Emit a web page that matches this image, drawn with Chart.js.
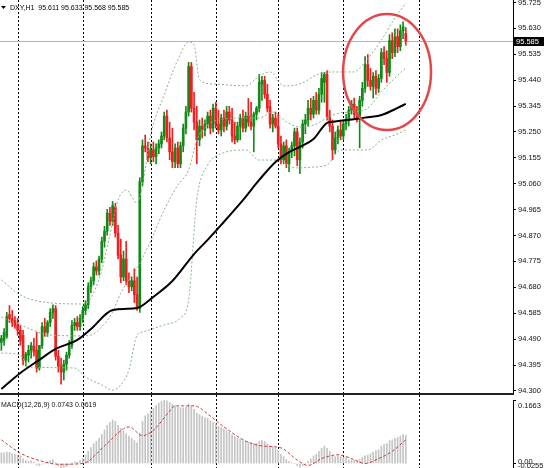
<!DOCTYPE html>
<html><head><meta charset="utf-8">
<script src="https://cdn.jsdelivr.net/npm/chart.js@4.4.1/dist/chart.umd.min.js"></script>
<style>
html,body{margin:0;padding:0;background:#fff;}
body{width:548px;height:468px;overflow:hidden;position:relative;}
#main{position:absolute;left:0;top:0;}
#macd{position:absolute;left:0;top:395px;}
</style></head><body>
<canvas id="main" width="548" height="395"></canvas>
<canvas id="macd" width="548" height="75"></canvas>
<script>
// ---------- data ----------
const symbolTitle = 'DXY,H1';
const lastQuote = ['95.611','95.633','95.568','95.585'];
const priceTicks = [94.300,94.395,94.490,94.585,94.680,94.775,94.870,94.965,95.060,95.155,95.250,95.345,95.440,95.535,95.630,95.725];
const daySeparatorBars = [6,30,55,79,102,126,154];

const opens = [94.478,94.485,94.500,94.580,94.566,94.558,94.543,94.522,94.504,94.413,94.431,94.449,94.463,94.449,94.384,94.467,94.536,94.515,94.551,94.588,
94.602,94.427,94.391,94.369,94.398,94.431,94.467,94.540,94.551,94.536,94.566,94.595,94.616,94.682,94.704,94.755,94.740,94.784,94.849,94.886,
94.952,94.922,94.973,94.879,94.798,94.718,94.784,94.704,94.682,94.704,94.653,94.602,95.068,95.199,95.191,95.155,95.184,95.159,95.191,95.206,
95.235,95.308,95.228,95.177,95.141,95.191,95.133,95.199,95.264,95.323,95.490,95.337,95.286,95.221,95.271,95.257,95.279,95.308,95.264,95.337,
95.279,95.257,95.301,95.271,95.323,95.294,95.235,95.221,95.271,95.301,95.264,95.308,95.286,95.271,95.315,95.337,95.425,95.439,95.388,95.344,
95.279,95.301,95.271,95.206,95.148,95.199,95.133,95.177,95.199,95.250,95.148,95.213,95.279,95.294,95.337,95.315,95.366,95.330,95.388,95.432,
95.461,95.308,95.271,95.184,95.228,95.257,95.235,95.279,95.293,95.330,95.352,95.315,95.301,95.366,95.410,95.497,95.439,95.417,95.454,95.410,
95.446,95.541,95.519,95.468,95.585,95.541,95.599,95.563,95.621,95.611];
const highs = [94.504,94.529,94.588,94.613,94.595,94.573,94.566,94.540,94.522,94.442,94.467,94.478,94.493,94.515,94.467,94.551,94.566,94.558,94.602,94.616,
94.613,94.449,94.420,94.413,94.442,94.485,94.558,94.566,94.573,94.580,94.609,94.631,94.697,94.718,94.770,94.777,94.795,94.864,94.904,94.966,
94.973,94.995,94.988,94.907,94.857,94.813,94.849,94.733,94.718,94.748,94.718,95.082,95.221,95.239,95.213,95.206,95.213,95.206,95.221,95.250,
95.323,95.330,95.286,95.264,95.206,95.213,95.213,95.279,95.344,95.505,95.505,95.395,95.344,95.294,95.301,95.294,95.323,95.330,95.352,95.359,
95.330,95.315,95.330,95.344,95.344,95.337,95.286,95.286,95.315,95.330,95.323,95.373,95.359,95.323,95.344,95.461,95.454,95.454,95.425,95.366,
95.315,95.323,95.315,95.235,95.213,95.221,95.191,95.213,95.264,95.264,95.228,95.294,95.315,95.366,95.373,95.381,95.395,95.410,95.468,95.468,
95.475,95.330,95.293,95.250,95.272,95.286,95.293,95.315,95.344,95.366,95.374,95.344,95.381,95.432,95.526,95.534,95.483,95.468,95.475,95.461,
95.556,95.563,95.548,95.607,95.614,95.628,95.628,95.643,95.654,95.633];
const lows = [94.449,94.467,94.493,94.551,94.536,94.529,94.504,94.467,94.395,94.391,94.406,94.420,94.427,94.369,94.376,94.456,94.500,94.500,94.536,94.566,
94.413,94.369,94.325,94.340,94.376,94.420,94.456,94.522,94.522,94.522,94.551,94.580,94.602,94.660,94.689,94.725,94.725,94.770,94.827,94.871,
94.907,94.907,94.864,94.784,94.697,94.704,94.689,94.660,94.667,94.624,94.595,94.588,95.053,95.177,95.141,95.133,95.141,95.133,95.170,95.191,
95.221,95.213,95.148,95.119,95.119,95.119,95.119,95.177,95.243,95.308,95.323,95.257,95.133,95.199,95.228,95.235,95.264,95.243,95.250,95.264,
95.243,95.235,95.250,95.257,95.279,95.213,95.206,95.213,95.221,95.250,95.250,95.271,95.257,95.177,95.294,95.323,95.366,95.373,95.323,95.264,
95.250,95.264,95.191,95.133,95.133,95.119,95.104,95.155,95.162,95.126,95.097,95.191,95.243,95.271,95.294,95.301,95.315,95.315,95.359,95.359,
95.293,95.250,95.148,95.170,95.206,95.221,95.221,95.257,95.272,95.315,95.301,95.286,95.192,95.344,95.395,95.417,95.403,95.374,95.388,95.395,
95.432,95.497,95.432,95.454,95.519,95.526,95.541,95.548,95.592,95.568];
const closes = [94.493,94.515,94.573,94.566,94.551,94.540,94.522,94.485,94.413,94.434,94.449,94.467,94.442,94.384,94.467,94.536,94.515,94.551,94.588,94.602,
94.427,94.391,94.369,94.398,94.431,94.467,94.540,94.551,94.536,94.566,94.595,94.616,94.682,94.704,94.755,94.740,94.784,94.849,94.886,94.952,
94.922,94.980,94.879,94.798,94.718,94.784,94.704,94.682,94.704,94.653,94.609,95.068,95.199,95.191,95.155,95.184,95.159,95.191,95.206,95.235,
95.308,95.228,95.177,95.141,95.191,95.133,95.199,95.264,95.323,95.490,95.337,95.286,95.221,95.271,95.257,95.279,95.308,95.264,95.337,95.279,
95.257,95.301,95.271,95.323,95.294,95.235,95.221,95.271,95.301,95.264,95.308,95.286,95.271,95.315,95.337,95.432,95.439,95.388,95.337,95.279,
95.301,95.271,95.206,95.148,95.199,95.133,95.177,95.199,95.250,95.148,95.213,95.279,95.294,95.337,95.315,95.366,95.330,95.388,95.446,95.461,
95.308,95.271,95.184,95.228,95.257,95.235,95.279,95.293,95.330,95.352,95.315,95.301,95.366,95.410,95.497,95.439,95.417,95.454,95.410,95.446,
95.541,95.519,95.468,95.585,95.541,95.599,95.563,95.621,95.636,95.585];

// moving average (black) read at some bars
const maBars = [0,7,14,20,28,33,41,46,50,56,63,71,76,81,89,95,101,106,110,115,120,122,133,140,146,149];
const maVals = [94.307,94.366,94.414,94.454,94.487,94.527,94.597,94.601,94.604,94.645,94.703,94.802,94.854,94.909,95.000,95.074,95.140,95.176,95.195,95.224,95.283,95.287,95.301,95.312,95.338,95.353];
// Bollinger bands read at some bars
const bbUpBars = [0,7,18,30,33,37,40,43,46,50,52,55,60,65,69,71,73,78,90,95,99,104,110,117,122,130,134,140,145,149];
const bbUpVals = [94.707,94.652,94.623,94.619,94.641,94.744,94.872,95.000,95.037,94.989,95.055,95.239,95.386,95.514,95.580,95.569,95.441,95.426,95.419,95.455,95.470,95.419,95.426,95.463,95.470,95.470,95.507,95.587,95.668,95.723];
const bbMidBars = [0,7,18,30,33,37,41,44,47,50,52,56,60,65,69,72,76,80,90,95,100,105,110,115,120,125,130,135,140,145,149];
const bbMidVals = [94.571,94.542,94.505,94.502,94.505,94.535,94.590,94.659,94.707,94.751,94.788,94.872,94.964,95.055,95.110,95.220,95.275,95.294,95.301,95.301,95.323,95.287,95.268,95.275,95.301,95.320,95.323,95.338,95.397,95.448,95.485];
const bbLowBars = [0,7,10,27,31,37,41,44,47,50,52,60,66,69,72,76,80,90,95,102,108,115,120,125,130,135,140,145,149];
const bbLowVals = [94.439,94.432,94.388,94.384,94.351,94.322,94.303,94.322,94.377,94.505,94.516,94.542,94.568,94.634,95.000,95.129,95.165,95.184,95.147,95.147,95.118,95.121,95.129,95.184,95.184,95.184,95.220,95.239,95.257];

// MACD(12,26,9)
const macdParams = '12,26,9';
const macdMain = [0.028,0.027,0.030,0.029,0.026,0.024,0.022,0.020,
0.012,0.008,0.006,0.007,0.004,-0.004,-0.006,-0.002,0.002,0.004,0.008,0.010,0.002,-0.006,-0.010,-0.010,-0.008,-0.004,0.002,0.004,0.004,0.008,0.012,
0.022,0.032,0.042,0.052,0.058,0.066,0.076,0.088,0.100,0.108,0.114,
0.110,0.100,0.092,0.086,0.078,0.072,0.066,0.060,0.054,
0.080,0.110,0.125,0.130,
0.138,0.145,0.152,0.158,0.163,0.166,0.164,0.160,0.156,0.152,
0.148,0.146,0.146,0.148,0.156,0.150,0.142,0.132,0.128,0.124,0.120,0.118,0.112,
0.108,0.104,0.098,0.094,0.090,0.086,0.082,0.076,0.070,0.066,0.064,0.060,0.058,
0.056,0.054,0.052,0.052,0.058,0.060,0.058,0.052,0.046,0.044,0.040,0.034,0.024,
0.018,0.010,0.006,0.002,0.000,-0.006,-0.010,-0.006,0.000,0.006,
0.012,0.020,0.024,0.032,0.040,0.046,0.040,0.032,
0.020,0.018,0.020,0.018,0.016,0.016,
0.010,0.010,0.008,0.006,0.010,0.016,0.020,
0.022,0.026,0.030,0.034,0.036,0.046,0.050,0.052,0.060,0.062,0.066,0.068,0.072,0.076,0.0743];
const signalBars = [0,7,16,21,30,38,45,47,52,56,62,64,71,77,82,90,96,103,109,113,118,124,129,134,139,144,149];
const signalVals = [0.062,0.027,0.004,-0.002,0.000,0.046,0.091,0.096,0.073,0.087,0.137,0.151,0.151,0.124,0.096,0.059,0.046,0.041,0.009,-0.005,0.013,0.023,0.013,0.000,0.013,0.032,0.0619];
const macdTickLabels = ['0.1663','0.00','-0.0255'];
const macdTop = 0.1663;

// circled region (annotation): centre bar, centre price, half-width in bars, half-height in price
const circleNote = {bar:142.1, price:95.470, halfBars:16.2, halfPrice:0.213};

// ---------- build ----------
const N = 189;
const labels = Array.from({length:N}, (_, i) => i);
const padArr = arr => { const a = new Array(N).fill(null); arr.forEach((v,i)=>{a[i]=v;}); return a; };
const sparse = (idx, vals) => { const a = new Array(N).fill(null); idx.forEach((k,j)=>{a[k]=vals[j];}); return a; };
const GREEN = '#138a18', RED = '#ee1f1f';
const candleColors = closes.map((c,i)=> c >= opens[i] ? GREEN : RED);
const FONT = 'Liberation Sans';

const sepPlugin = {
  id:'seps',
  beforeDatasetsDraw(chart, args, opts){
    const xs = chart.scales.x, ctx = chart.ctx;
    ctx.save();
    ctx.strokeStyle = '#000'; ctx.lineWidth = 1; ctx.setLineDash([2,2]);
    daySeparatorBars.forEach(b => {
      const x = Math.round(xs.getPixelForValue(b)) + 0.5;
      ctx.beginPath(); ctx.moveTo(x, opts.top || 0); ctx.lineTo(x, opts.bottom); ctx.stroke();
    });
    ctx.restore();
  }
};

const mainOverlay = {
  id:'mainOverlay',
  beforeDatasetsDraw(chart){
    const ys = chart.scales.y, ctx = chart.ctx, ca = chart.chartArea;
    const y = Math.round(ys.getPixelForValue(closes[closes.length-1])) + 0.5;
    ctx.save(); ctx.strokeStyle = '#b4b4b4'; ctx.lineWidth = 1;
    ctx.beginPath(); ctx.moveTo(0,y); ctx.lineTo(ca.right,y); ctx.stroke(); ctx.restore();
  },
  afterDatasetsDraw(chart){
    const xs = chart.scales.x, ys = chart.scales.y, ctx = chart.ctx;
    const cx = xs.getPixelForValue(circleNote.bar), cy = ys.getPixelForValue(circleNote.price);
    const rx = xs.getPixelForValue(circleNote.bar + circleNote.halfBars) - cx;
    const ry = ys.getPixelForValue(circleNote.price - circleNote.halfPrice) - cy;
    ctx.save(); ctx.strokeStyle = '#e4474a'; ctx.lineWidth = 2.5;
    ctx.beginPath(); ctx.ellipse(cx, cy, rx, ry, 0, 0, Math.PI*2); ctx.stroke(); ctx.restore();
  },
  afterDraw(chart){
    const ys = chart.scales.y, ctx = chart.ctx, ca = chart.chartArea;
    ctx.save();
    // panel separator
    ctx.fillStyle = '#222'; ctx.fillRect(0, 393, ca.right + 1, 2);
    // current price box
    const y = ys.getPixelForValue(closes[closes.length-1]);
    ctx.fillStyle = '#000'; ctx.fillRect(ca.right + 1, Math.round(y) - 4, 30, 9);
    ctx.fillStyle = '#fff'; ctx.font = '7.5px "' + FONT + '"'; ctx.textBaseline = 'middle'; ctx.textAlign = 'left';
    ctx.fillText(lastQuote[3], ca.right + 3, Math.round(y) + 0.5);
    // title
    ctx.fillStyle = '#000';
    ctx.beginPath(); ctx.moveTo(1,6); ctx.lineTo(6,6); ctx.lineTo(3.5,9); ctx.closePath(); ctx.fill();
    ctx.font = '7px "' + FONT + '"';
    ctx.fillText(symbolTitle + '  ' + lastQuote.join(' '), 10, 8);
    ctx.restore();
  }
};

new Chart(document.getElementById('main'), {
  type:'bar',
  data:{ labels, datasets:[
    { type:'line', data: sparse(maBars, maVals), borderColor:'#000', borderWidth:2, pointRadius:0, spanGaps:true, cubicInterpolationMode:'monotone', order:0 },
    { type:'line', data: sparse(bbUpBars, bbUpVals), borderColor:'#86b486', borderWidth:1, borderDash:[2,2], pointRadius:0, spanGaps:true, cubicInterpolationMode:'monotone', order:0 },
    { type:'line', data: sparse(bbMidBars, bbMidVals), borderColor:'#86b486', borderWidth:1, borderDash:[2,2], pointRadius:0, spanGaps:true, cubicInterpolationMode:'monotone', order:0 },
    { type:'line', data: sparse(bbLowBars, bbLowVals), borderColor:'#86b486', borderWidth:1, borderDash:[2,2], pointRadius:0, spanGaps:true, cubicInterpolationMode:'monotone', order:0 },
    { type:'bar', data: padArr(lows.map((l,i)=>[l, highs[i]])), backgroundColor: candleColors, barThickness:1, grouped:false, order:3 },
    { type:'bar', data: padArr(opens.map((o,i)=>[o, closes[i]])), backgroundColor: candleColors, barThickness:2, minBarLength:1, grouped:false, order:2 }
  ]},
  options:{
    responsive:false, animation:false, events:[],
    layout:{ padding:0 },
    plugins:{ legend:{display:false}, tooltip:{enabled:false}, seps:{top:0, bottom:393} },
    scales:{
      x:{ type:'category', offset:true, grid:{display:false}, border:{display:false}, ticks:{display:false, autoSkip:false},
          afterFit: s => { s.height = 0; s.paddingLeft = 0; s.paddingRight = 0; } },
      y:{ position:'right', min:94.285, max:95.734,
          afterBuildTicks: s => { s.ticks = priceTicks.map(v => ({value:v})); },
          afterFit: s => { s.width = 35; s.paddingTop = 0; s.paddingBottom = 0; },
          ticks:{ color:'#111', font:{family:FONT, size:7.5}, padding:2, callback: v => Number(v).toFixed(3) },
          grid:{ drawOnChartArea:false, drawTicks:true, tickLength:3, color:'#000' },
          border:{ display:true, color:'#000', width:1 } }
    }
  },
  plugins:[sepPlugin, mainOverlay]
});

const macdOverlay = {
  id:'macdOverlay',
  afterDraw(chart){
    const ctx = chart.ctx, ca = chart.chartArea;
    ctx.save(); ctx.fillStyle = '#111'; ctx.font = '7px "' + FONT + '"'; ctx.textBaseline = 'middle'; ctx.textAlign = 'left';
    ctx.fillText('MACD(' + macdParams + ') ' + macdMain[macdMain.length-1].toFixed(4) + ' ' + signalVals[signalVals.length-1].toFixed(4), 1, 10.5);
    ctx.font = '7.5px "' + FONT + '"';
    ctx.fillText(macdTickLabels[0], ca.right + 5, 10.5);
    ctx.fillText(macdTickLabels[1], ca.right + 5, 66.5);
    ctx.fillText(macdTickLabels[2], ca.right + 5, 70.5);
    ctx.restore();
  }
};

new Chart(document.getElementById('macd'), {
  type:'bar',
  data:{ labels, datasets:[
    { type:'line', data: sparse(signalBars, signalVals), borderColor:'#c83a3a', borderWidth:1, borderDash:[3,2], pointRadius:0, spanGaps:true, cubicInterpolationMode:'monotone', order:0 },
    { type:'bar', data: padArr(macdMain), backgroundColor:'#c4c4c4', barThickness:1, grouped:false, order:1 }
  ]},
  options:{
    responsive:false, animation:false, events:[],
    layout:{ padding:{top:5, bottom:0, left:0, right:0} },
    plugins:{ legend:{display:false}, tooltip:{enabled:false}, seps:{top:0, bottom:75} },
    scales:{
      x:{ type:'category', offset:true, grid:{display:false}, border:{display:false}, ticks:{display:false, autoSkip:false},
          afterFit: s => { s.height = 0; s.paddingLeft = 0; s.paddingRight = 0; } },
      y:{ position:'right', min:-0.0170, max:macdTop,
          afterBuildTicks: s => { s.ticks = [{value:macdTop},{value:0}]; },
          afterFit: s => { s.width = 35; s.paddingTop = 0; s.paddingBottom = 0; },
          ticks:{ display:false },
          grid:{ drawOnChartArea:false, drawTicks:true, tickLength:3, color:'#000' },
          border:{ display:true, color:'#000', width:1 } }
    }
  },
  plugins:[sepPlugin, macdOverlay]
});
</script>
</body></html>
